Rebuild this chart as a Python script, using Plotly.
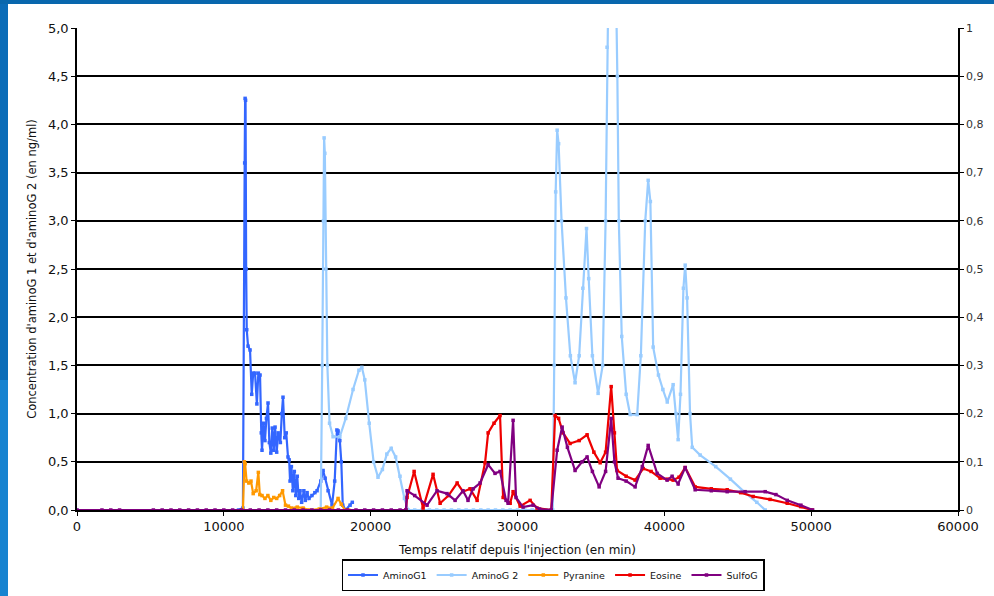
import plotly.graph_objects as go

# ---------------- data ----------------
amino1_x = [11000, 11300, 11420, 11450, 11480, 11520, 11560, 11650, 11785, 11900, 12000, 12125,
            12250, 12350, 12466, 12550, 12600, 12700, 12800, 12900, 13010, 13100, 13200, 13300,
            13400, 13490, 13600, 13700, 13850, 13950, 14030, 14150, 14250, 14370, 14450, 14510,
            14600, 14700, 14800, 14900, 15000, 15100, 15190, 15300, 15450, 15550, 15670, 15800,
            16000, 16200, 16350, 16600, 16760, 16900, 17100, 17370, 17550, 17700, 17780, 17900,
            18000, 18100, 18300, 18600, 18750]
amino1_y = [0, 0.02, 3.6, 4.27, 4.25, 2.5, 1.87, 1.7, 1.66, 1.2, 1.42, 1.42,
            1.1, 1.42, 1.4, 0.8, 0.62, 0.9, 0.72, 0.95, 1.11, 0.7, 0.59, 0.85,
            0.62, 0.86, 0.6, 0.8, 0.7, 1.0, 1.17, 0.75, 0.8, 0.55, 0.52, 0.3,
            0.45, 0.2, 0.4, 0.15, 0.35, 0.12, 0.2, 0.08, 0.2, 0.1, 0.18, 0.12,
            0.15, 0.18, 0.2, 0.3, 0.41, 0.33, 0.2, 0.05, 0.3, 0.83, 0.82, 0.72,
            0.5, 0.05, 0.0, 0.05, 0.08]

amino2_x = [0, 16600, 16700, 16780, 16830, 16880, 16950, 17050, 17200, 17440, 17900, 18300,
            18800, 19200, 19400, 19600, 19900, 20200, 20500, 20800, 21100, 21400, 21700,
            22000, 22300, 22550, 23000, 23500, 24000, 24500, 25000, 25500, 26000, 26500,
            27000, 27500, 28000, 28500, 29000, 29500, 30000, 30500, 31000, 31500, 32000,
            32400, 32500, 32600, 32700, 32800, 33000, 33300, 33600, 33920, 34200, 34450,
            34700, 34850, 35100, 35490, 35800, 36000, 36100, 36200, 36500, 36700, 36800,
            36900, 37100, 37400, 37670, 38150, 38400, 38700, 38900, 39050, 39240, 39600,
            39900, 40200, 40600, 40800, 40940, 41100, 41300, 41420, 41550, 41750, 41900,
            42440, 43500, 44500, 45500, 46300, 46870]
amino2_y = [0, 0, 1.5, 3.0, 3.86, 3.7, 2.5, 1.5, 0.9, 0.76, 0.76, 0.95,
            1.25, 1.45, 1.48, 1.35, 0.9, 0.5, 0.34, 0.42, 0.58, 0.64, 0.55,
            0.35, 0.12, 0, 0, 0, 0, 0, 0, 0, 0, 0,
            0, 0, 0, 0, 0, 0, 0, 0, 0, 0, 0,
            0, 1.5, 3.3, 3.94, 3.8, 3.0, 2.2, 1.6, 1.32, 1.6, 2.3,
            2.92, 2.4, 1.6, 1.21, 1.5, 3.0, 4.8, 5.6, 5.8, 5.5, 4.5,
            3.0, 1.8, 1.2, 0.99, 0.99, 1.6, 3.0, 3.42, 3.2, 1.69, 1.4,
            1.25, 1.12, 1.3, 1.0, 0.73, 1.2, 2.3, 2.54, 2.2, 1.0, 0.65,
            0.57, 0.45, 0.32, 0.18, 0.08, 0]

# Pyranine, Eosine, SulfoG : right axis (0 - 1)
pyr_x = [11300, 11400, 11450, 11550, 11700, 11850, 12000, 12200, 12350, 12450, 12600, 12800,
         13000, 13200, 13400, 13600, 13800, 14000, 14200, 14400, 14600, 15000, 15400, 15800,
         16500, 17000, 17400, 17780, 18000, 18250, 18500]
pyr_y = [0, 0.1, 0.096, 0.06, 0.056, 0.06, 0.034, 0.04, 0.078, 0.032, 0.03, 0.024,
         0.03, 0.02, 0.026, 0.024, 0.03, 0.04, 0.01, 0.008, 0.004, 0.006, 0.004, 0,
         0.002, 0.006, 0.004, 0.024, 0.012, 0, 0]

eos_x = [22400, 22480, 22960, 23570, 24250, 24730, 25300, 25890, 26290, 26770, 27250, 27790,
         28000, 28400, 28810, 29020, 29500, 29700, 30180, 30860, 31330, 32300, 32560, 32800,
         33100, 33580, 34200, 34740, 35200, 35630, 36000, 36380, 36600, 36780, 37400, 38010,
         38560, 39100, 39710, 40200, 40600, 41000, 41420, 42100, 43200, 44280, 45200, 46050,
         47200, 48370, 49300, 50070]
eos_y = [0, 0.026, 0.08, 0.004, 0.074, 0.014, 0.03, 0.056, 0.038, 0.044, 0.02, 0.098,
         0.16, 0.18, 0.196, 0.026, 0.014, 0.038, 0.008, 0.02, 0.004, 0, 0.196, 0.19,
         0.16, 0.138, 0.144, 0.156, 0.12, 0.098, 0.12, 0.256, 0.16, 0.082, 0.07, 0.062,
         0.086, 0.08, 0.066, 0.064, 0.062, 0.068, 0.088, 0.048, 0.044, 0.042, 0.036, 0.028,
         0.022, 0.014, 0.007, 0]

sulfo_x = [0, 1700, 2300, 2900, 5200, 5800, 6400, 7000, 7600, 8200, 8800, 9400, 10000, 10600,
           11200, 11800, 12400, 13000, 13600, 14200, 14800, 15400, 16000, 16600, 17200, 17800,
           18400, 19000, 19600, 20200, 20800, 21400, 22000, 22400,
           22480, 23000, 23840, 24520, 25200, 25750, 26290, 26630, 26980, 27450, 28000, 28470,
           28810, 29220, 29360, 29700, 29900, 30380, 31060, 31500, 32300, 32700, 33040, 33400,
           33920, 34400, 34740, 35100, 35560, 36000, 36380, 36600, 36850, 37400, 38010, 38500,
           38900, 39510, 40190, 40530, 40940, 41420, 42100, 43200, 44280, 45500, 46870, 47600,
           48370, 49300, 50100]
sulfo_y = [0, 0, 0, 0, 0, 0, 0, 0, 0, 0, 0, 0, 0, 0,
           0, 0, 0, 0, 0, 0, 0, 0, 0, 0, 0, 0,
           0, 0, 0, 0, 0, 0, 0, 0,
           0.04, 0.03, 0.01, 0.04, 0.034, 0.02, 0.04, 0.02, 0.044, 0.056, 0.094, 0.076,
           0.08, 0.02, 0.014, 0.186, 0.026, 0.006, 0.01, 0.002, 0, 0.124, 0.172, 0.13,
           0.082, 0.1, 0.11, 0.08, 0.048, 0.08, 0.19, 0.1, 0.066, 0.06, 0.048, 0.09,
           0.134, 0.076, 0.062, 0.07, 0.054, 0.088, 0.042, 0.04, 0.038, 0.038, 0.038, 0.032,
           0.02, 0.01, 0]

left_ticks = [0, 0.5, 1, 1.5, 2, 2.5, 3, 3.5, 4, 4.5, 5]
right_ticks = [0, 0.1, 0.2, 0.3, 0.4, 0.5, 0.6, 0.7, 0.8, 0.9, 1]
x_ticks = [0, 10000, 20000, 30000, 40000, 50000, 60000]

# ---------------- figure ----------------
fig = go.Figure()

def add(name, x, y, color, axis):
    fig.add_trace(go.Scatter(
        x=x, y=y, name=name, yaxis=axis, mode="lines+markers",
        line=dict(color=color, width=2.2),
        marker=dict(color=color, size=3.5, symbol="square"),
    ))

add("AminoG1", amino1_x, amino1_y, "#3366FF", "y")
add("AminoG 2", amino2_x, amino2_y, "#99CCFF", "y")
add("Pyranine", pyr_x, pyr_y, "#FF9900", "y2")
add("Eosine", eos_x, eos_y, "#EE0000", "y2")
add("SulfoG", sulfo_x, sulfo_y, "#800080", "y2")

W, H = 994, 596
L, R, T, B = 77, 36, 28, 86
pw, ph = W - L - R, H - T - B

def px_x(px):
    return (px - L) / pw

def px_y(py):
    return (H - B - py) / ph

fig.update_layout(
    width=W, height=H,
    margin=dict(l=L, r=R, t=T, b=B, autoexpand=False),
    paper_bgcolor="white", plot_bgcolor="white",
    separators=", ",
    font=dict(family="DejaVu Sans", color="#111111", size=12),
    showlegend=True,
    legend=dict(
        orientation="h", x=px_x(553), y=px_y(591), xanchor="center", yanchor="bottom",
        bordercolor="#000000", borderwidth=1.5, font=dict(size=9.5, family="DejaVu Sans"),
        itemwidth=30, tracegroupgap=0, bgcolor="white",
    ),
    xaxis=dict(
        range=[0, 60000], tickvals=x_ticks, tickformat="d",
        showgrid=False, zeroline=False, showline=True, linecolor="#000000", linewidth=1.5,
        ticks="outside", ticklen=4, tickcolor="#000000", tickwidth=1,
        tickfont=dict(size=13),
        title=dict(text="Temps relatif depuis l'injection (en min)", font=dict(size=12), standoff=12),
    ),
    yaxis=dict(
        range=[0, 5], tickvals=left_ticks, tickformat=".1f",
        showgrid=True, gridcolor="#000000", gridwidth=1.6, zeroline=False,
        showline=True, linecolor="#000000", linewidth=1.5,
        ticks="outside", ticklen=4, tickcolor="#000000",
        tickfont=dict(size=13),
        title=dict(text="Concentration d'aminoG 1 et d'aminoG 2 (en ng/ml)",
                   font=dict(size=11.5), standoff=9),
    ),
    yaxis2=dict(
        range=[0, 1], tickvals=right_ticks, overlaying="y", side="right",
        showgrid=False, zeroline=False, showline=True, linecolor="#000000", linewidth=1.5,
        ticks="outside", ticklen=4, tickcolor="#000000",
        tickfont=dict(size=11, color="#333333"),
    ),
    shapes=[
        dict(type="rect", xref="paper", yref="paper", x0=px_x(0), x1=px_x(8),
             y0=px_y(596), y1=px_y(0), fillcolor="#0A6CB8", line=dict(width=0), layer="below"),
        dict(type="rect", xref="paper", yref="paper", x0=px_x(0), x1=px_x(8),
             y0=px_y(596), y1=px_y(380), fillcolor="#1783D0", line=dict(width=0), layer="below"),
        dict(type="rect", xref="paper", yref="paper", x0=px_x(0), x1=px_x(994),
             y0=px_y(4), y1=px_y(0), fillcolor="#0867AD", line=dict(width=0), layer="below"),
    ],
)

fig.write_html(
    "out.html",
    config={"displayModeBar": False},
    post_script="document.body.style.margin='0';document.body.style.overflow='hidden';",
)
